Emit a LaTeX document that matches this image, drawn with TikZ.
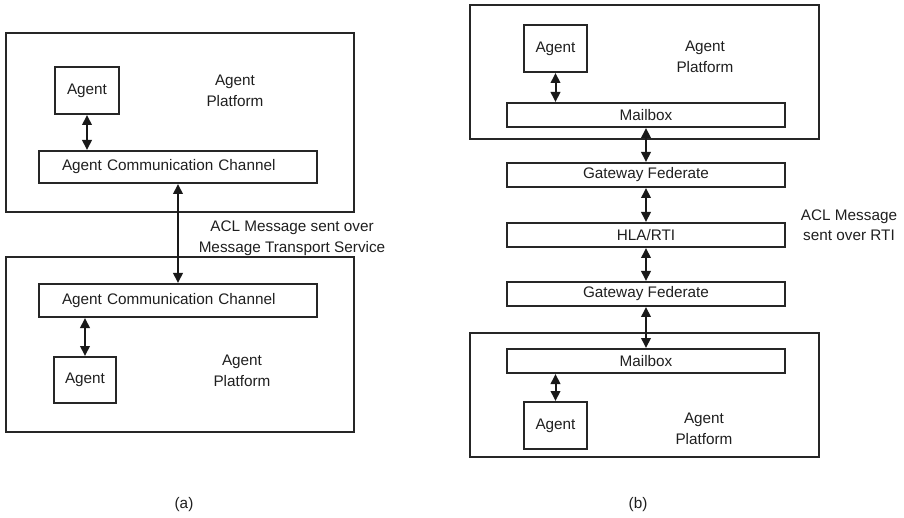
\documentclass[tikz,border=0pt]{standalone}
\usepackage{fontspec}
\setmainfont{Liberation Sans}
\usetikzlibrary{arrows.meta}

\tikzset{
  txt/.style={font=\fontsize{15.3}{20.5}\selectfont, text=black!88, inner sep=0pt, align=center},
  box/.style={txt, draw=black!85, line width=1.2pt, rectangle},
  platform/.style={draw=black!85, line width=1.2pt, rectangle, inner sep=0pt},
  channel/.style={box, minimum height=#1, text width=232pt, align=left, inner xsep=23pt},
  biarrow/.style={draw=black!90, line width=2pt,
    {Triangle[length=10pt,width=9.5pt]}-{Triangle[length=10pt,width=9.5pt]}, shorten <=0.4pt, shorten >=0.4pt},
}

\begin{document}
\begin{tikzpicture}[x=1pt, y=-1pt]
\useasboundingbox (0,0) rectangle (904,518);

% ---------- (a) direct transport between two platforms ----------
\node[platform, minimum width=348pt, minimum height=179pt] (platA1) at (180,122.5) {};
\node[box, minimum width=64pt, minimum height=47pt] (agentA1) at (87,90.5) {Agent};
\node[channel=32pt] (accA1) at (178,167) {Agent Communication Channel};
\node[txt] (labA1) at (235,91) {Agent\\Platform};

\node[platform, minimum width=348pt, minimum height=175pt] (platA2) at (180,344.5) {};
\node[channel=33pt] (accA2) at (178,300.5) {Agent Communication Channel};
\node[box, minimum width=62pt, minimum height=46pt] (agentA2) at (85,380) {Agent};
\node[txt] (labA2) at (242,371) {Agent\\Platform};

\node[txt] (msgA) at (292,238) {ACL Message sent over\\Message Transport Service};

\draw[biarrow] (agentA1.south) -- (accA1.north -| agentA1.south);
\draw[biarrow] (accA1.south) -- (accA2.north);
\draw[biarrow] (accA2.south -| agentA2.north) -- (agentA2.north);

\node[txt] (capA) at (184,505) {(a)};

% ---------- (b) transport through gateway federates and the RTI ----------
\node[platform, minimum width=349pt, minimum height=134pt] (platB1) at (644.5,72) {};
\node[box, minimum width=63pt, minimum height=47pt] (agentB1) at (555.5,48.5) {Agent};
\node[box, minimum width=278pt, minimum height=24pt] (mailB1) at (646,115) {Mailbox};
\node[txt] (labB1) at (705,57) {Agent\\Platform};

\node[box, minimum width=278pt, minimum height=24pt] (gwB1) at (646,175) {Gateway Federate};
\node[box, minimum width=278pt, minimum height=24pt] (rti) at (646,235) {HLA/RTI};
\node[box, minimum width=278pt, minimum height=24pt] (gwB2) at (646,294) {Gateway Federate};

\node[platform, minimum width=349pt, minimum height=124pt] (platB2) at (644.5,395) {};
\node[box, minimum width=278pt, minimum height=24pt] (mailB2) at (646,361) {Mailbox};
\node[box, minimum width=63pt, minimum height=47pt] (agentB2) at (555.5,425.5) {Agent};
\node[txt] (labB2) at (704,429) {Agent\\Platform};

\node[txt] (msgB) at (849,225) {ACL Message\\sent over RTI};

\draw[biarrow] (agentB1.south) -- (mailB1.north -| agentB1.south);
\draw[biarrow] (mailB1.south) -- (gwB1.north);
\draw[biarrow] (gwB1.south) -- (rti.north);
\draw[biarrow] (rti.south) -- (gwB2.north);
\draw[biarrow] (gwB2.south) -- (mailB2.north);
\draw[biarrow] (mailB2.south -| agentB2.north) -- (agentB2.north);

\node[txt] (capB) at (638,505) {(b)};
\end{tikzpicture}
\end{document}
